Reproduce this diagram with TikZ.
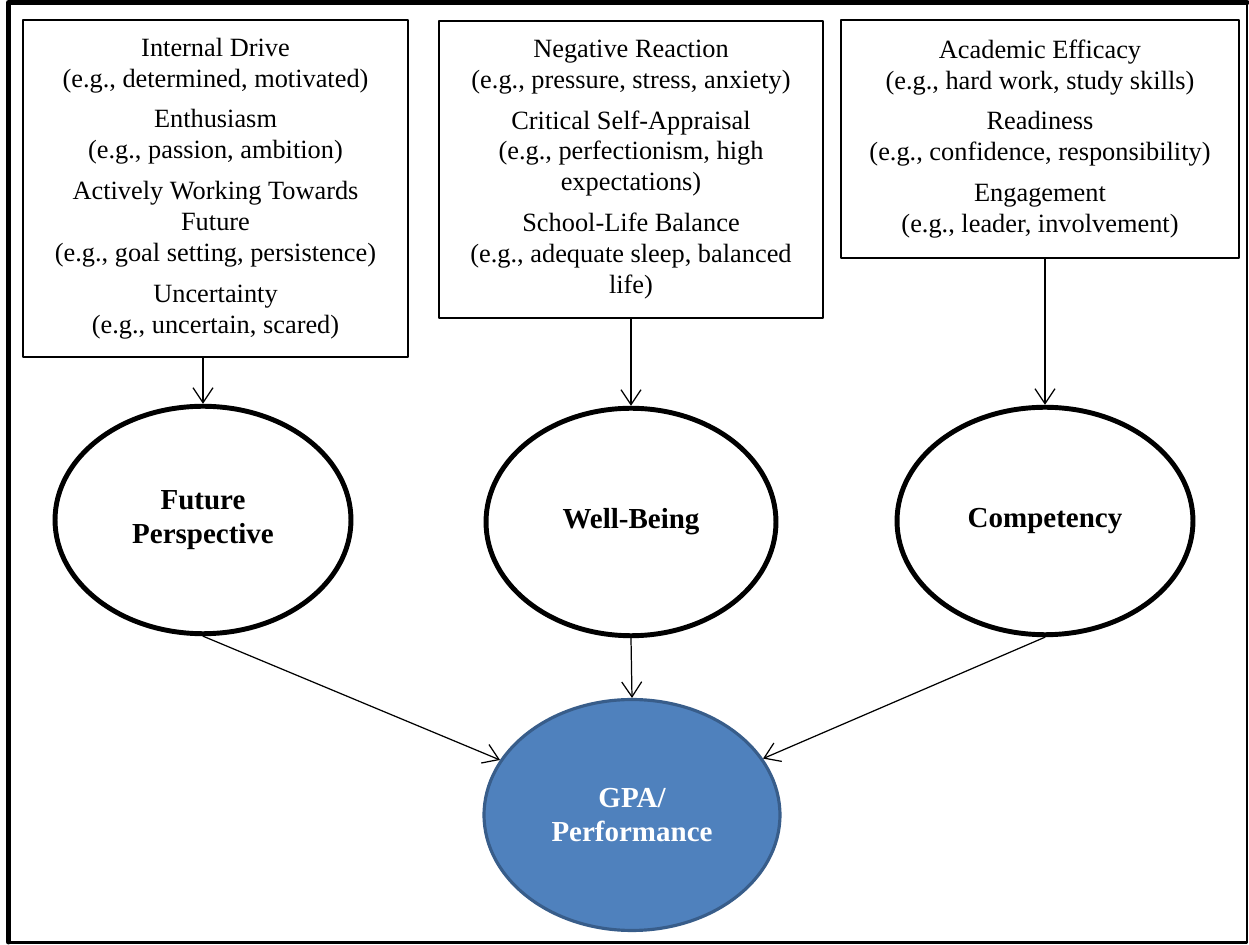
\documentclass[tikz,border=0pt]{standalone}
\usepackage{fontspec}
\setmainfont{Liberation Serif}
\usetikzlibrary{arrows.meta,shapes.geometric}

\definecolor{gpafill}{RGB}{79,129,189}
\definecolor{gpaline}{RGB}{56,93,138}

\begin{document}
\begin{tikzpicture}[x=0.02cm, y=-0.02cm, >={Straight Barb[length=3mm,width=4mm]},
  line cap=round, line join=round,
  cues/.style={draw, line width=0.7pt, align=center, inner sep=0pt,
    font=\fontsize{15}{17.6}\selectfont},
  factor/.style={draw, ellipse, line width=2.8pt, inner sep=0pt, align=center,
    minimum width=5.92cm, minimum height=4.55cm,
    font=\fontsize{16.5}{19.3}\selectfont\bfseries},
  link/.style={->, line width=0.7pt}]
  \useasboundingbox (0,0) rectangle (1249,945);

  % Outer frame.
  \draw[line width=0.1cm] (8.5,942) -- (8.5,2.5) -- (1247,2.5);
  \draw[line width=0.05cm] (1247,2.5) -- (1247,942.5) -- (8.5,942.5);

  % Indicator boxes.
  \node[cues, minimum width=7.7cm, minimum height=6.74cm] (drive) at (215.5,188.5) {
    Internal Drive\\(e.g., determined, motivated)\\[5.7pt]
    Enthusiasm\\(e.g., passion, ambition)\\[5.7pt]
    Actively Working Towards\\Future\\(e.g., goal setting, persistence)\\[5.7pt]
    Uncertainty\\(e.g., uncertain, scared)};
  \node[cues, minimum width=7.68cm, minimum height=5.94cm] (strain) at (631,169.5) {
    Negative Reaction\\(e.g., pressure, stress, anxiety)\\[5.7pt]
    Critical Self-Appraisal\\(e.g., perfectionism, high\\expectations)\\[5.7pt]
    School-Life Balance\\(e.g., adequate sleep, balanced\\life)};
  \node[cues, minimum width=7.96cm, minimum height=4.76cm] (skills) at (1040,139) {
    Academic Efficacy\\(e.g., hard work, study skills)\\[5.7pt]
    Readiness\\(e.g., confidence, responsibility)\\[5.7pt]
    Engagement\\(e.g., leader, involvement)};

  % Latent factors and outcome.
  \node[factor] (fp) at (203,520) {Future\\Perspective};
  \node[factor, minimum width=5.8cm] (wb) at (631,522) {Well-Being};
  \node[factor] (comp) at (1045,521) {Competency};
  \node[factor, line width=1.8pt, draw=gpaline, fill=gpafill, text=white,
    minimum height=4.62cm] (gpa) at (632,815) {GPA/\\Performance};

  % Paths.
  \draw[link] (fp.north |- drive.south) -- (fp.north);
  \draw[link] (wb.north |- strain.south) -- (wb.north);
  \draw[link] (comp.north |- skills.south) -- (comp.north);
  \draw[link] (fp.south) -- (gpa);
  \draw[link] (wb.south) -- (gpa.north);
  \draw[link] (comp.south) -- (gpa);
\end{tikzpicture}
\end{document}
